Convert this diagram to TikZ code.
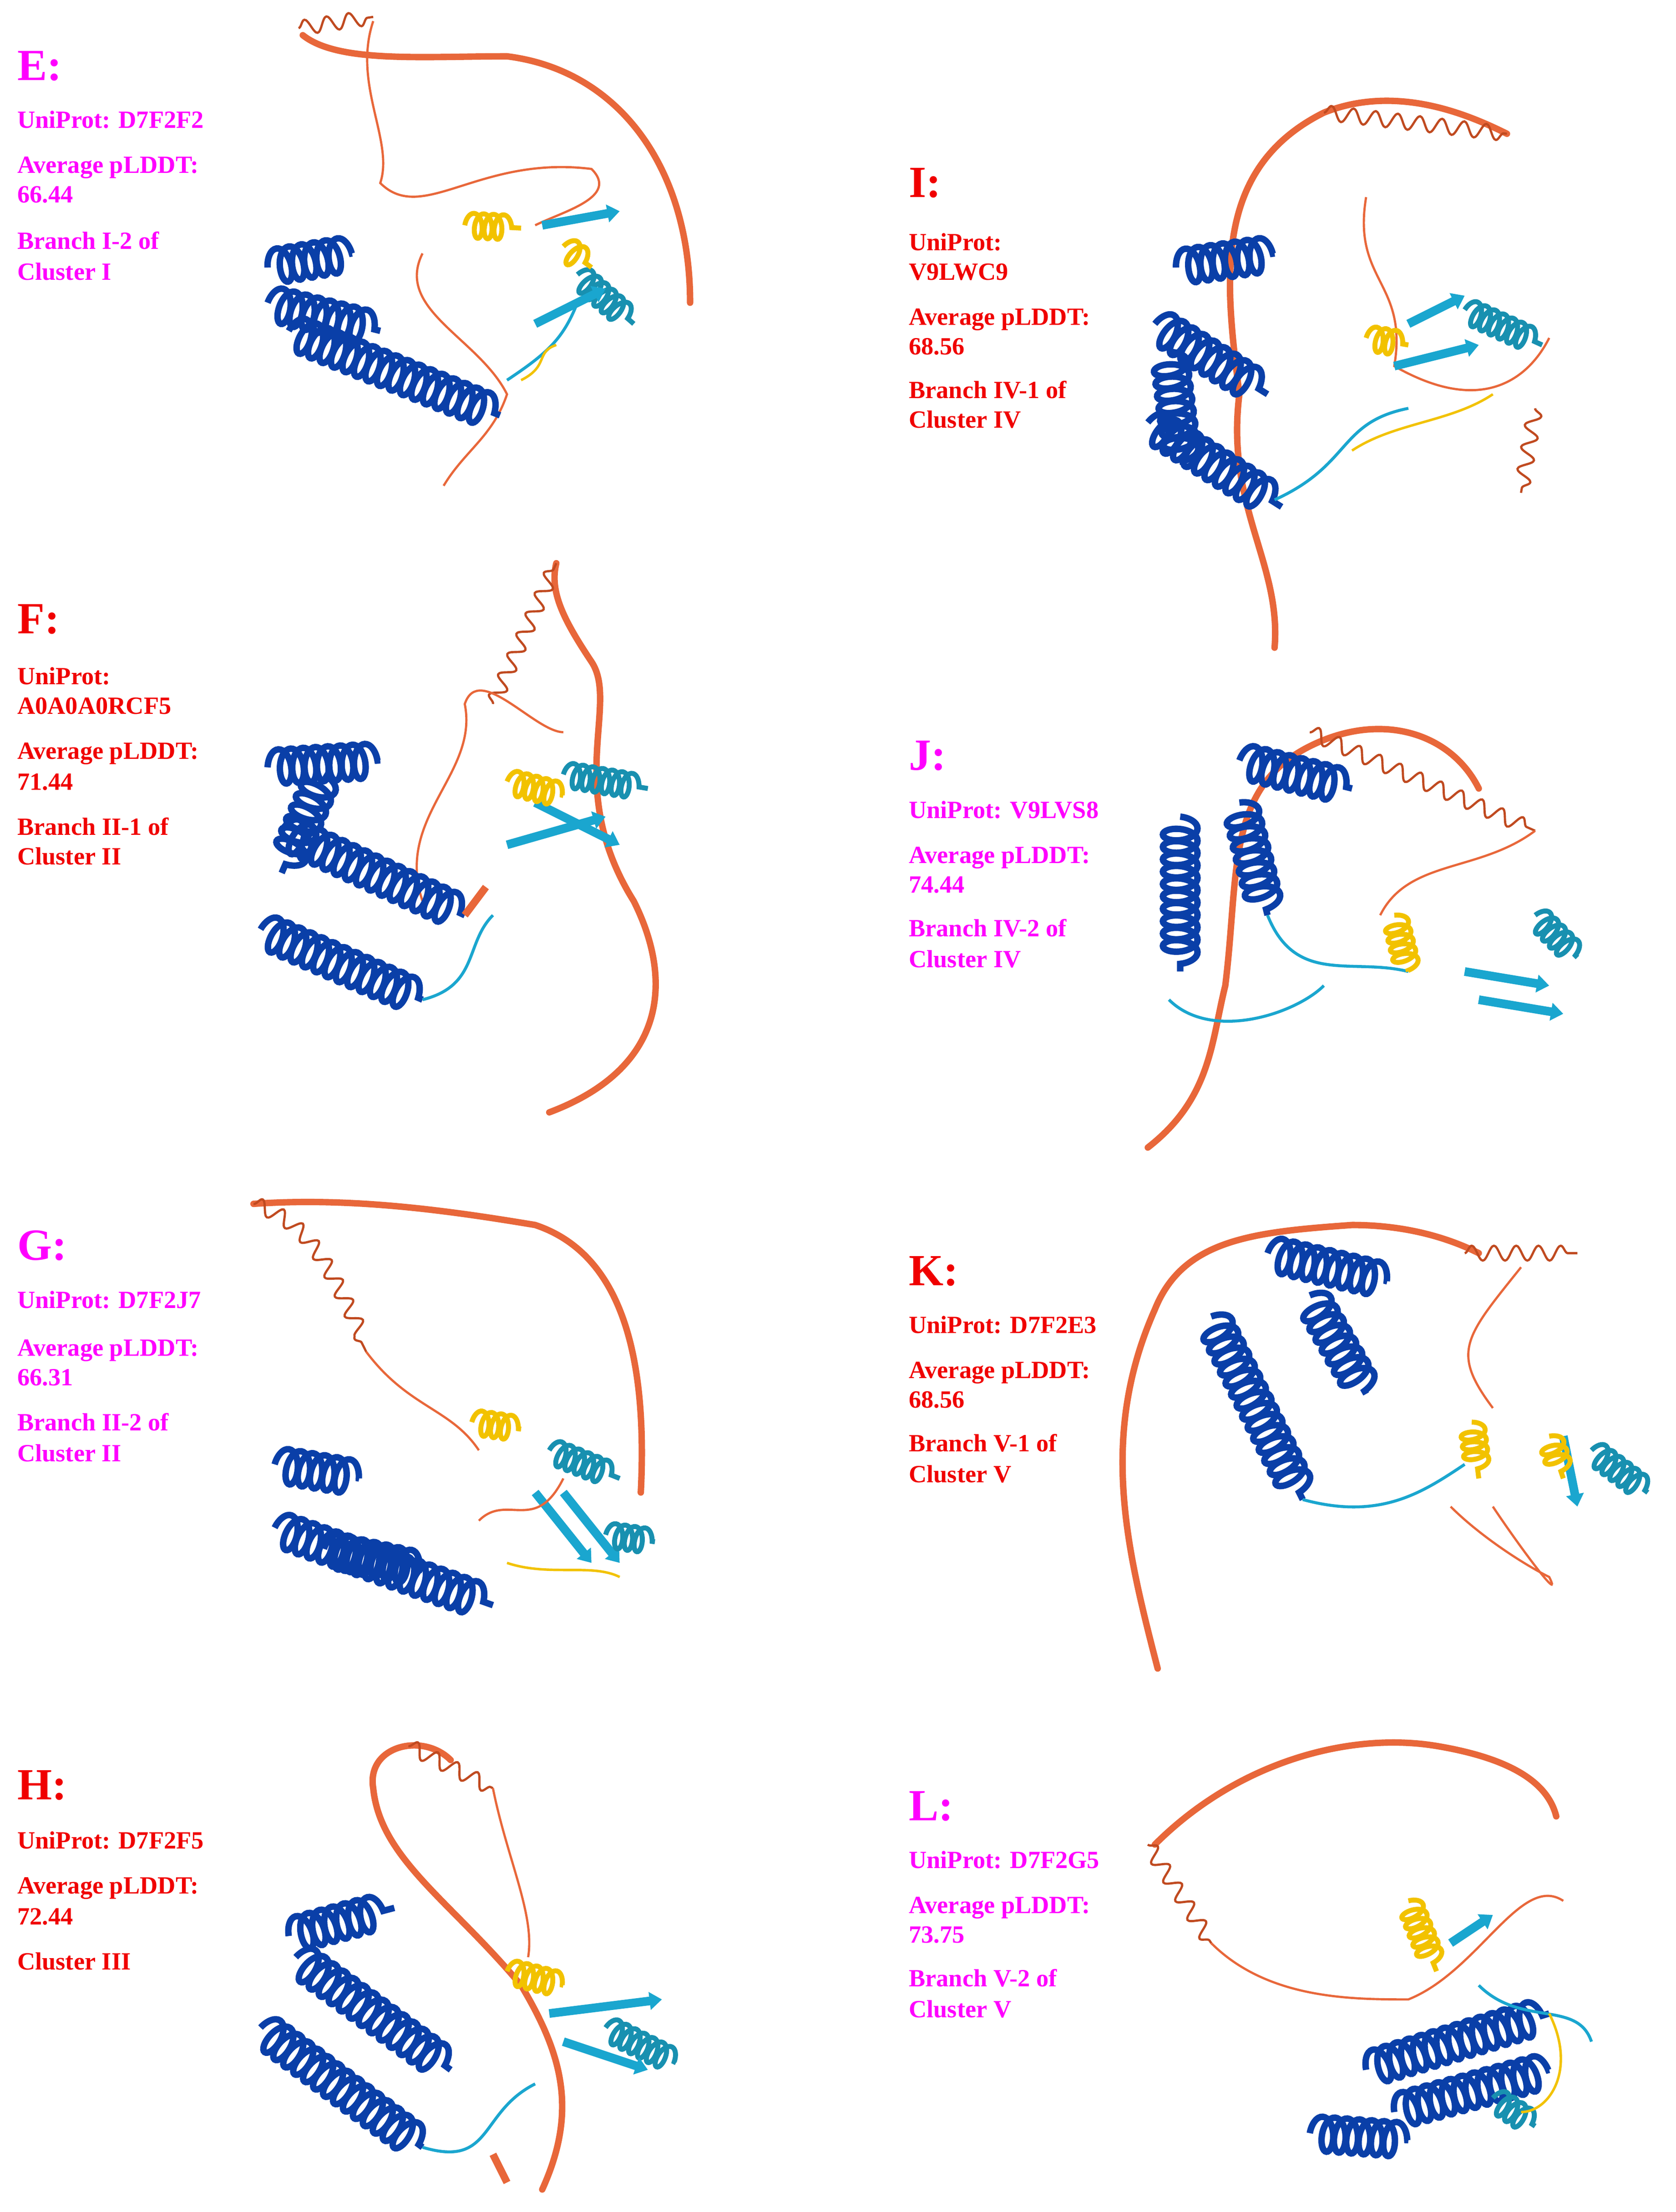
\documentclass[tikz,border=0pt]{standalone}
\usepackage{fontspec}
\setmainfont{Liberation Serif}
\usetikzlibrary{decorations.pathmorphing,arrows.meta}
\definecolor{mag}{HTML}{FF00FF}
\definecolor{rd}{HTML}{F00000}
\definecolor{dblue}{HTML}{0A3FA8}
\definecolor{cyn}{HTML}{1AA6CF}
\definecolor{tea}{HTML}{1890B0}
\definecolor{yel}{HTML}{F2C200}
\definecolor{org}{HTML}{E8673A}
\definecolor{dorg}{HTML}{C04A20}
\tikzset{
 lab/.style={anchor=base west,inner sep=0pt,font=\fontsize{10}{12}\selectfont\bfseries},
 ttl/.style={anchor=base west,inner sep=0pt,font=\fontsize{18}{20}\selectfont\bfseries},
 hB/.style={draw=dblue,line width=2.6pt,decorate,decoration={coil,aspect=0.5,amplitude=7pt,segment length=5pt}},
 hC/.style={draw=tea,line width=2pt,decorate,decoration={coil,aspect=0.5,amplitude=5pt,segment length=4pt}},
 hY/.style={draw=yel,line width=2pt,decorate,decoration={coil,aspect=0.5,amplitude=5pt,segment length=4pt}},
 lO/.style={draw=org,line width=0.9pt},
 tO/.style={draw=org,line width=2.6pt,line cap=round},
 wO/.style={draw=dorg,line width=0.9pt,decorate,decoration={snake,amplitude=3pt,segment length=9pt}},
 lC/.style={draw=cyn,line width=1.2pt},
 sC/.style={draw=cyn,line width=3.5pt,-{Triangle[width=7pt,length=5pt]}},
 lY/.style={draw=yel,line width=1pt},
}
\begin{document}
\begin{tikzpicture}[x=0.02cm,y=-0.02cm]
\useasboundingbox (0,0) rectangle (1190,1571);
% ---------- labels ----------
\node[ttl,mag] (eT) at (12,57) {E:};
\node[lab,mag] (e1) at (12,91) {UniProt: D7F2F2};
\node[lab,mag] (e2) at (12,123) {Average pLDDT:};
\node[lab,mag] (e3) at (12,144) {66.44};
\node[lab,mag] (e4) at (12,177) {Branch I-2 of};
\node[lab,mag] (e5) at (12,199) {Cluster I};
\node[ttl,rd] (iT) at (645,140) {I:};
\node[lab,rd] (i1) at (645,178) {UniProt:};
\node[lab,rd] (i2) at (645,199) {V9LWC9};
\node[lab,rd] (i3) at (645,231) {Average pLDDT:};
\node[lab,rd] (i4) at (645,252) {68.56};
\node[lab,rd] (i5) at (645,283) {Branch IV-1 of};
\node[lab,rd] (i6) at (645,304) {Cluster IV};
\node[ttl,rd] (fT) at (12,450) {F:};
\node[lab,rd] (f1) at (12,486) {UniProt:};
\node[lab,rd] (f2) at (12,507) {A0A0A0RCF5};
\node[lab,rd] (f3) at (12,539) {Average pLDDT:};
\node[lab,rd] (f4) at (12,561) {71.44};
\node[lab,rd] (f5) at (12,593) {Branch II-1 of};
\node[lab,rd] (f6) at (12,614) {Cluster II};
\node[ttl,mag] (jT) at (645,547) {J:};
\node[lab,mag] (j1) at (645,581) {UniProt: V9LVS8};
\node[lab,mag] (j2) at (645,613) {Average pLDDT:};
\node[lab,mag] (j3) at (645,634) {74.44};
\node[lab,mag] (j4) at (645,665) {Branch IV-2 of};
\node[lab,mag] (j5) at (645,687) {Cluster IV};
\node[ttl,mag] (gT) at (12,895) {G:};
\node[lab,mag] (g1) at (12,929) {UniProt: D7F2J7};
\node[lab,mag] (g2) at (12,963) {Average pLDDT:};
\node[lab,mag] (g3) at (12,984) {66.31};
\node[lab,mag] (g4) at (12,1016) {Branch II-2 of};
\node[lab,mag] (g5) at (12,1038) {Cluster II};
\node[ttl,rd] (kT) at (645,913) {K:};
\node[lab,rd] (k1) at (645,947) {UniProt: D7F2E3};
\node[lab,rd] (k2) at (645,979) {Average pLDDT:};
\node[lab,rd] (k3) at (645,1000) {68.56};
\node[lab,rd] (k4) at (645,1031) {Branch V-1 of};
\node[lab,rd] (k5) at (645,1053) {Cluster V};
\node[ttl,rd] (hT) at (12,1278) {H:};
\node[lab,rd] (h1) at (12,1313) {UniProt: D7F2F5};
\node[lab,rd] (h2) at (12,1345) {Average pLDDT:};
\node[lab,rd] (h3) at (12,1367) {72.44};
\node[lab,rd] (h4) at (12,1399) {Cluster III};
\node[ttl,mag] (lT) at (645,1293) {L:};
\node[lab,mag] (l1) at (645,1327) {UniProt: D7F2G5};
\node[lab,mag] (l2) at (645,1359) {Average pLDDT:};
\node[lab,mag] (l3) at (645,1380) {73.75};
\node[lab,mag] (l4) at (645,1411) {Branch V-2 of};
\node[lab,mag] (l5) at (645,1433) {Cluster V};
% ---------- E ----------
\draw[tO] (215,25) .. controls (240,45) and (300,40) .. (360,40) .. controls (440,50) and (490,120) .. (490,215);
\draw[wO] (212,20) -- (265,12);
\draw[lO] (265,15) .. controls (250,60) and (280,100) .. (270,130) .. controls (300,160) and (340,110) .. (420,120) .. controls (440,140) and (400,150) .. (380,160);
\draw[lO] (300,180) .. controls (280,220) and (340,240) .. (360,280) .. controls (350,310) and (330,320) .. (315,345);
\draw[hB] (190,190) -- (250,180);
\draw[hB] (205,235) -- (355,295);
\draw[hB] (190,215) -- (270,235);
\draw[hC] (410,195) -- (450,230);
\draw[sC] (380,230) -- (430,205);
\draw[sC] (385,160) -- (440,150);
\draw[lC] (360,270) .. controls (390,250) and (400,240) .. (410,215);
\draw[hY] (330,160) -- (370,162);
\draw[hY] (400,175) -- (420,190);
\draw[lY] (370,270) .. controls (390,260) and (380,250) .. (395,245);
% ---------- I ----------
\draw[tO] (905,460) .. controls (910,400) and (870,360) .. (880,280) .. controls (870,200) and (860,120) .. (940,80) .. controls (990,60) and (1040,80) .. (1070,95);
\draw[wO] (940,80) -- (1070,95);
\draw[lO] (970,140) .. controls (960,200) and (1000,200) .. (990,260) .. controls (1060,300) and (1090,260) .. (1100,240);
\draw[wO] (1090,290) -- (1080,350);
\draw[hB] (835,190) -- (905,180);
\draw[hB] (820,230) -- (900,280);
\draw[hB] (815,300) -- (910,360);
\draw[hB] (830,250) -- (840,330);
\draw[lC] (905,355) .. controls (960,330) and (950,300) .. (1000,290);
\draw[hC] (1040,220) -- (1095,245);
\draw[sC] (990,260) -- (1050,245);
\draw[sC] (1000,230) -- (1040,210);
\draw[hY] (970,240) -- (1000,245);
\draw[lY] (960,320) .. controls (990,300) and (1030,300) .. (1060,280);
% ---------- F ----------
\draw[tO] (390,790) .. controls (470,760) and (480,700) .. (450,640) .. controls (400,560) and (440,500) .. (420,470) .. controls (400,440) and (390,420) .. (395,400);
\draw[wO] (350,500) -- (395,400);
\draw[lO] (300,640) .. controls (280,580) and (340,550) .. (330,500) .. controls (340,470) and (380,520) .. (400,520);
\draw[hB] (190,545) -- (270,540);
\draw[hB] (200,590) -- (330,650);
\draw[hB] (185,660) -- (300,710);
\draw[hB] (230,550) -- (200,620);
\draw[lC] (300,710) .. controls (340,700) and (330,670) .. (350,650);
\draw[hC] (400,550) -- (460,560);
\draw[sC] (360,600) -- (430,580);
\draw[sC] (380,570) -- (440,600);
\draw[hY] (360,555) -- (400,565);
\draw[draw=org,line width=3pt] (330,650) -- (345,630);
% ---------- J ----------
\draw[tO] (815,815) .. controls (860,780) and (860,740) .. (870,700) .. controls (880,620) and (870,560) .. (930,530) .. controls (980,505) and (1030,520) .. (1050,560);
\draw[wO] (930,520) -- (1090,590);
\draw[lO] (1090,590) .. controls (1050,620) and (1000,610) .. (980,650);
\draw[hB] (838,580) -- (838,690);
\draw[hB] (880,540) -- (960,560);
\draw[hB] (880,570) -- (900,650);
\draw[lC] (900,650) .. controls (920,700) and (960,680) .. (1000,690);
\draw[hY] (990,650) -- (1000,690);
\draw[hC] (1090,650) -- (1120,680);
\draw[sC] (1040,690) -- (1100,700);
\draw[sC] (1050,710) -- (1110,720);
\draw[lC] (830,710) .. controls (860,740) and (920,720) .. (940,700);
% ---------- G ----------
\draw[tO] (180,855) .. controls (250,850) and (320,860) .. (380,870) .. controls (440,890) and (460,960) .. (455,1060);
\draw[wO] (180,855) .. controls (220,870) and (230,900) .. (260,960);
\draw[lO] (260,960) .. controls (290,1000) and (320,1000) .. (340,1030);
\draw[hB] (195,1040) -- (255,1050);
\draw[hB] (195,1085) -- (350,1140);
\draw[hB] (230,1100) -- (300,1115);
\draw[hC] (390,1030) -- (440,1050);
\draw[sC] (380,1060) -- (420,1110);
\draw[sC] (400,1060) -- (440,1110);
\draw[hC] (430,1090) -- (465,1095);
\draw[hY] (335,1010) -- (370,1015);
\draw[lO] (340,1080) .. controls (360,1060) and (380,1090) .. (400,1050);
\draw[lY] (360,1110) .. controls (390,1120) and (420,1110) .. (440,1120);
% ---------- K ----------
\draw[tO] (822,1185) .. controls (800,1100) and (780,1020) .. (820,930) .. controls (840,880) and (890,875) .. (960,870) .. controls (1000,870) and (1030,880) .. (1050,890);
\draw[wO] (1040,890) -- (1120,890);
\draw[lO] (1080,900) .. controls (1040,950) and (1030,960) .. (1060,1000);
\draw[lO] (1060,1070) .. controls (1080,1100) and (1110,1140) .. (1100,1120) .. controls (1080,1110) and (1050,1090) .. (1030,1070);
\draw[hB] (860,935) -- (925,1065);
\draw[hB] (900,890) -- (985,910);
\draw[hB] (930,920) -- (970,990);
\draw[lC] (925,1065) .. controls (980,1080) and (1010,1060) .. (1040,1040);
\draw[hY] (1045,1010) -- (1050,1050);
\draw[hC] (1130,1030) -- (1170,1060);
\draw[sC] (1110,1020) -- (1120,1070);
\draw[hY] (1100,1020) -- (1110,1050);
% ---------- H ----------
\draw[tO] (385,1555) .. controls (410,1500) and (400,1460) .. (370,1410) .. controls (320,1350) and (270,1320) .. (265,1270) .. controls (260,1240) and (300,1230) .. (320,1250);
\draw[wO] (290,1240) -- (350,1270);
\draw[lO] (350,1270) .. controls (360,1320) and (380,1360) .. (375,1390);
\draw[hB] (205,1375) -- (280,1355);
\draw[hB] (185,1440) -- (300,1525);
\draw[hB] (210,1390) -- (320,1470);
\draw[hY] (360,1400) -- (400,1410);
\draw[hC] (430,1440) -- (480,1465);
\draw[sC] (390,1430) -- (470,1420);
\draw[sC] (400,1450) -- (460,1470);
\draw[lC] (300,1525) .. controls (350,1540) and (340,1500) .. (380,1480);
\draw[draw=org,line width=3pt] (350,1530) -- (360,1550);
% ---------- L ----------
\draw[tO] (820,1310) .. controls (880,1250) and (960,1230) .. (1020,1240) .. controls (1080,1250) and (1100,1270) .. (1105,1290);
\draw[wO] (815,1310) -- (860,1380);
\draw[lO] (860,1380) .. controls (900,1420) and (960,1420) .. (1000,1420) .. controls (1050,1400) and (1080,1330) .. (1110,1350);
\draw[hB] (930,1515) -- (1000,1520);
\draw[hB] (970,1470) -- (1100,1430);
\draw[hB] (990,1500) -- (1100,1470);
\draw[hY] (1000,1350) -- (1020,1400);
\draw[hC] (1060,1490) -- (1090,1510);
\draw[sC] (1030,1380) -- (1060,1360);
\draw[lC] (1050,1410) .. controls (1080,1440) and (1120,1420) .. (1130,1450);
\draw[lY] (1100,1430) .. controls (1120,1470) and (1100,1500) .. (1080,1500);
\end{tikzpicture}
\end{document}
